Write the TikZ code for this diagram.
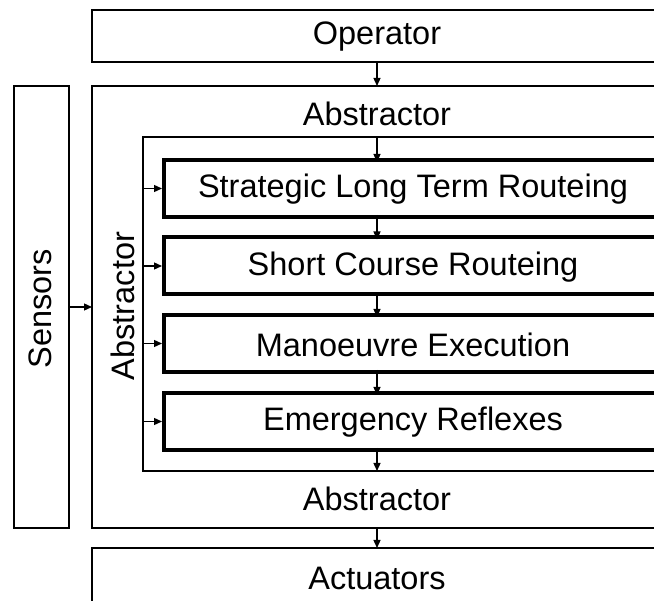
\documentclass[tikz,border=0pt]{standalone}
\usepackage{fontspec}
\setmainfont{Liberation Sans}
\usetikzlibrary{arrows.meta}
\begin{document}
\begin{tikzpicture}[x=1pt,y=-1pt,
  box/.style={draw=black,line width=1.3pt,fill=none,inner sep=0pt,outer sep=0pt,anchor=north west},
  thickbox/.style={box,line width=4pt},
  lbl/.style={font=\fontsize{32.5}{38}\selectfont,inner sep=0pt},
  arr/.style={line width=1.3pt,-{Triangle[length=8pt,width=7pt]}}]
\useasboundingbox (0,0) rectangle (654,601);
\fill[white] (0,0) rectangle (654,601);
\clip (0,0) rectangle (654,601);
% boxes
\node[box,minimum width=570pt,minimum height=52pt] (op) at (92,10) {};
\node[lbl] (opT) at ([yshift=-1pt]op.center) {Operator};
\node[box,minimum width=55pt,minimum height=442pt] (sens) at (14,86) {};
\node[lbl,rotate=90] (sensT) at ([yshift=-2pt,xshift=-1pt]sens.center) {Sensors};
\node[box,minimum width=570pt,minimum height=442pt] (outer) at (92,86) {};
\node[lbl] (abT) at (377,114) {Abstractor};
\node[lbl] (abB) at (377,499) {Abstractor};
\node[box,minimum width=560pt,minimum height=334pt] (inner) at (143,137) {};
\node[lbl,rotate=90] (abL) at (123,306) {Abstractor};
\node[thickbox,minimum width=498pt,minimum height=57pt] (strat) at (164,160) {};
\node[lbl] at ([yshift=-1pt]strat.center) {Strategic Long Term Routeing};
\node[thickbox,minimum width=498pt,minimum height=57pt] (short) at (164,237.5) {};
\node[lbl] at ([yshift=-1pt]short.center) {Short Course Routeing};
\node[thickbox,minimum width=498pt,minimum height=57pt] (man) at (164,315) {};
\node[lbl] at ([yshift=-1pt]man.center) {Manoeuvre Execution};
\node[thickbox,minimum width=498pt,minimum height=57pt] (emer) at (164,393) {};
\node[lbl] at ([yshift=-1pt]emer.center) {Emergency Reflexes};
\node[box,minimum width=570pt,minimum height=80pt] (act) at (92,548) {};
\node[lbl] (actT) at (377,578) {Actuators};
% connectors
\draw[arr] (op.south) -- (outer.north);
\draw[arr] (op.south |- inner.north) -- ([yshift=-2pt]op.south |- strat.north);
\draw[arr] ([yshift=2pt]op.south |- strat.south) -- ([yshift=-2pt]op.south |- short.north);
\draw[arr] ([yshift=2pt]op.south |- short.south) -- ([yshift=-2pt]op.south |- man.north);
\draw[arr] ([yshift=2pt]op.south |- man.south) -- ([yshift=-2pt]op.south |- emer.north);
\draw[arr] ([yshift=2pt]op.south |- emer.south) -- (op.south |- inner.south);
\draw[arr] (outer.south) -- (act.north);
\draw[arr] (sens.east) -- (sens.east -| outer.west);
\foreach \n in {strat,short,man,emer}
  \draw[arr] (inner.west |- \n.west) -- ([xshift=-2pt]\n.west);
\end{tikzpicture}
\end{document}
